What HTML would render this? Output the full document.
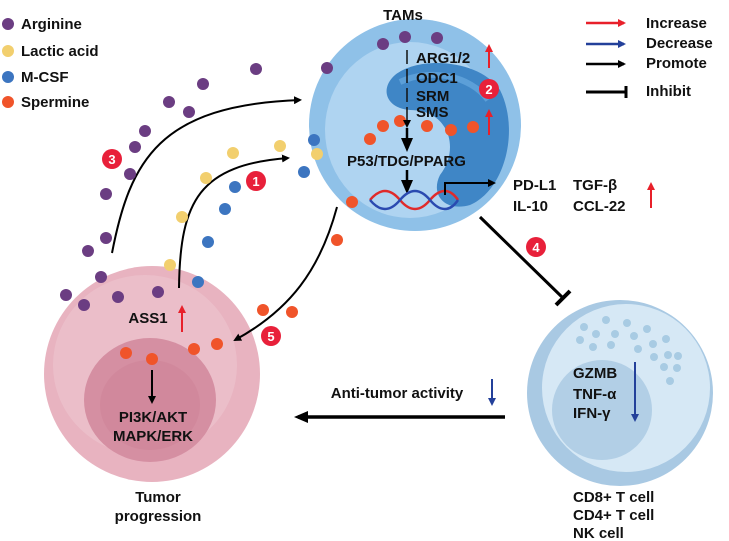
<!DOCTYPE html>
<html><head><meta charset="utf-8"><style>
html,body{margin:0;padding:0;background:#fff;}
svg{display:block;}
text{font-family:"Liberation Sans",Arial,sans-serif;font-weight:bold;fill:#111;}
</style></head><body>
<svg width="729" height="541" viewBox="0 0 729 541" xmlns="http://www.w3.org/2000/svg">
<defs>
<marker id="ab" markerWidth="8" markerHeight="8" refX="6" refY="4" orient="auto" markerUnits="userSpaceOnUse"><path d="M0,0 L8,4 L0,8 Z" fill="#000"/></marker>
<marker id="ar" markerWidth="8" markerHeight="8" refX="6" refY="4" orient="auto" markerUnits="userSpaceOnUse"><path d="M0,0 L8,4 L0,8 Z" fill="#e8202a"/></marker>
<marker id="abl" markerWidth="8" markerHeight="8" refX="6" refY="4" orient="auto" markerUnits="userSpaceOnUse"><path d="M0,0 L8,4 L0,8 Z" fill="#23409a"/></marker>
<marker id="big" markerWidth="14" markerHeight="12" refX="10" refY="6" orient="auto" markerUnits="userSpaceOnUse"><path d="M0,0 L14,6 L0,12 Z" fill="#000"/></marker>
</defs>

<!-- Tumor cell -->
<ellipse cx="152" cy="374" rx="108" ry="108" fill="#e8b3c0"/>
<ellipse cx="145" cy="365" rx="92" ry="90" fill="#edc3cd" opacity="0.7"/>
<ellipse cx="150" cy="400" rx="66" ry="62" fill="#d58fa2"/>
<ellipse cx="150" cy="405" rx="50" ry="45" fill="#cf8498" opacity="0.6"/>

<!-- TAM -->
<ellipse cx="415" cy="125" rx="106" ry="106" fill="#8fc1e8"/>
<ellipse cx="410" cy="130" rx="85" ry="88" fill="#b6d8f2" opacity="0.8"/>
<path d="M395,75 C420,55 480,60 500,90 C520,130 505,190 470,205 C445,212 430,195 440,175 C460,150 450,110 410,110 C385,108 380,88 395,75 Z" fill="#3f86c6"/>
<path d="M400,82 C430,68 470,75 488,100" stroke="#5c9fd8" stroke-width="6" fill="none"/>

<!-- T cell -->
<circle cx="620" cy="393" r="93" fill="#a9c9e3"/>
<circle cx="626" cy="388" r="84" fill="#d6e8f5"/>
<circle cx="602" cy="410" r="50" fill="#b2cfe6"/>
<g fill="#a8cbe3">
<circle cx="584" cy="327" r="4"/><circle cx="606" cy="320" r="4"/><circle cx="627" cy="323" r="4"/><circle cx="647" cy="329" r="4"/><circle cx="666" cy="339" r="4"/><circle cx="580" cy="340" r="4"/><circle cx="596" cy="334" r="4"/><circle cx="615" cy="334" r="4"/><circle cx="634" cy="336" r="4"/><circle cx="653" cy="344" r="4"/><circle cx="593" cy="347" r="4"/><circle cx="611" cy="345" r="4"/><circle cx="638" cy="349" r="4"/><circle cx="654" cy="357" r="4"/><circle cx="668" cy="355" r="4"/><circle cx="678" cy="356" r="4"/><circle cx="664" cy="367" r="4"/><circle cx="677" cy="368" r="4"/><circle cx="670" cy="381" r="4"/>
</g>

<!-- connectors -->
<path d="M112,253 C130,160 160,105 300,100" stroke="#000" stroke-width="2" fill="none" marker-end="url(#ab)"/>
<path d="M179,288 C180,200 200,165 288,158" stroke="#000" stroke-width="2" fill="none" marker-end="url(#ab)"/>
<path d="M337,207 C320,270 290,310 235,340" stroke="#000" stroke-width="2" fill="none" marker-end="url(#ab)"/>
<line x1="480" y1="217" x2="563" y2="298" stroke="#000" stroke-width="3"/>
<line x1="556" y1="305" x2="570" y2="291" stroke="#000" stroke-width="4"/>
<line x1="505" y1="417" x2="298" y2="417" stroke="#000" stroke-width="3.5" marker-end="url(#big)"/>

<!-- legend left -->
<circle cx="8" cy="24" r="6" fill="#6b3d82"/><text x="21" y="29" font-size="15">Arginine</text>
<circle cx="8" cy="51" r="6" fill="#f2cf6e"/><text x="21" y="56" font-size="15">Lactic acid</text>
<circle cx="8" cy="77" r="6" fill="#3c75c0"/><text x="21" y="82" font-size="15">M-CSF</text>
<circle cx="8" cy="102" r="6" fill="#f0542a"/><text x="21" y="107" font-size="15">Spermine</text>

<!-- legend right -->
<line x1="586" y1="23" x2="624" y2="23" stroke="#e8202a" stroke-width="2.5" marker-end="url(#ar)"/><text x="646" y="28" font-size="15">Increase</text>
<line x1="586" y1="44" x2="624" y2="44" stroke="#23409a" stroke-width="2.5" marker-end="url(#abl)"/><text x="646" y="48" font-size="15">Decrease</text>
<line x1="586" y1="64" x2="624" y2="64" stroke="#000" stroke-width="2.5" marker-end="url(#ab)"/><text x="646" y="68" font-size="15">Promote</text>
<line x1="586" y1="92" x2="626" y2="92" stroke="#000" stroke-width="3"/><line x1="626" y1="86" x2="626" y2="98" stroke="#000" stroke-width="3"/><text x="646" y="96" font-size="15">Inhibit</text>

<!-- dots -->
<g fill="#6b3d82">
<circle cx="256" cy="69" r="6"/><circle cx="203" cy="84" r="6"/><circle cx="169" cy="102" r="6"/><circle cx="189" cy="112" r="6"/><circle cx="145" cy="131" r="6"/><circle cx="135" cy="147" r="6"/><circle cx="130" cy="174" r="6"/><circle cx="106" cy="194" r="6"/><circle cx="106" cy="238" r="6"/><circle cx="88" cy="251" r="6"/><circle cx="101" cy="277" r="6"/><circle cx="66" cy="295" r="6"/><circle cx="118" cy="297" r="6"/><circle cx="158" cy="292" r="6"/><circle cx="84" cy="305" r="6"/>
<circle cx="327" cy="68" r="6"/><circle cx="383" cy="44" r="6"/><circle cx="405" cy="37" r="6"/><circle cx="437" cy="38" r="6"/>
</g>
<g fill="#f2cf6e">
<circle cx="233" cy="153" r="6"/><circle cx="280" cy="146" r="6"/><circle cx="206" cy="178" r="6"/><circle cx="182" cy="217" r="6"/><circle cx="170" cy="265" r="6"/><circle cx="317" cy="154" r="6"/>
</g>
<g fill="#3c75c0">
<circle cx="235" cy="187" r="6"/><circle cx="225" cy="209" r="6"/><circle cx="208" cy="242" r="6"/><circle cx="198" cy="282" r="6"/><circle cx="314" cy="140" r="6"/><circle cx="304" cy="172" r="6"/>
</g>
<g fill="#f0542a">
<circle cx="383" cy="126" r="6"/><circle cx="400" cy="121" r="6"/><circle cx="427" cy="126" r="6"/><circle cx="451" cy="130" r="6"/><circle cx="473" cy="127" r="6"/><circle cx="370" cy="139" r="6"/><circle cx="352" cy="202" r="6"/><circle cx="337" cy="240" r="6"/><circle cx="263" cy="310" r="6"/><circle cx="292" cy="312" r="6"/><circle cx="217" cy="344" r="6"/><circle cx="194" cy="349" r="6"/><circle cx="152" cy="359" r="6"/><circle cx="126" cy="353" r="6"/>
</g>

<!-- numbered badges -->
<g font-size="13" text-anchor="middle">
<circle cx="112" cy="159" r="10" fill="#e8203a"/><text x="112" y="164" style="fill:#fff">3</text>
<circle cx="256" cy="181" r="10" fill="#e8203a"/><text x="256" y="186" style="fill:#fff">1</text>
<circle cx="489" cy="89" r="10" fill="#e8203a"/><text x="489" y="94" style="fill:#fff">2</text>
<circle cx="536" cy="247" r="10" fill="#e8203a"/><text x="536" y="252" style="fill:#fff">4</text>
<circle cx="271" cy="336" r="10" fill="#e8203a"/><text x="271" y="341" style="fill:#fff">5</text>
</g>

<!-- TAM contents -->
<text x="403" y="20" font-size="15" text-anchor="middle">TAMs</text>
<g font-size="15">
<text x="416" y="63">ARG1/2</text>
<text x="416" y="83">ODC1</text>
<text x="416" y="101">SRM</text>
<text x="416" y="117">SMS</text>
<text x="347" y="166">P53/TDG/PPARG</text>
</g>
<line x1="407" y1="50" x2="407" y2="122" stroke="#111" stroke-width="1.5" stroke-dasharray="14,5"/>
<line x1="407" y1="122" x2="407" y2="126" stroke="#111" stroke-width="1.5" marker-end="url(#ab)"/>
<line x1="407" y1="128" x2="407" y2="148" stroke="#000" stroke-width="2.5" marker-end="url(#big)"/>
<line x1="407" y1="170" x2="407" y2="190" stroke="#000" stroke-width="2.5" marker-end="url(#big)"/>
<line x1="489" y1="68" x2="489" y2="46" stroke="#e8202a" stroke-width="2" marker-end="url(#ar)"/>
<line x1="489" y1="135" x2="489" y2="111" stroke="#e8202a" stroke-width="2" marker-end="url(#ar)"/>
<!-- DNA -->
<path d="M370,200 C380,188 390,188 400,200 S420,212 430,200 S450,188 458,200" stroke="#e02a2a" stroke-width="2.5" fill="none"/>
<path d="M370,200 C380,212 390,212 400,200 S420,188 430,200 S450,212 458,200" stroke="#2a4ab0" stroke-width="2.5" fill="none"/>
<polyline points="445,195 445,183 494,183" stroke="#000" stroke-width="2" fill="none" marker-end="url(#ab)"/>
<g font-size="15">
<text x="513" y="190">PD-L1</text><text x="573" y="190">TGF-β</text>
<text x="513" y="211">IL-10</text><text x="573" y="211">CCL-22</text>
</g>
<line x1="651" y1="208" x2="651" y2="184" stroke="#e8202a" stroke-width="2" marker-end="url(#ar)"/>

<!-- Tumor contents -->
<text x="148" y="323" font-size="15" text-anchor="middle">ASS1</text>
<line x1="182" y1="332" x2="182" y2="307" stroke="#e8202a" stroke-width="2" marker-end="url(#ar)"/>
<line x1="152" y1="370" x2="152" y2="402" stroke="#000" stroke-width="2" marker-end="url(#ab)"/>
<text x="153" y="422" font-size="15" text-anchor="middle">PI3K/AKT</text>
<text x="153" y="441" font-size="15" text-anchor="middle">MAPK/ERK</text>
<text x="158" y="502" font-size="15" text-anchor="middle">Tumor</text>
<text x="158" y="521" font-size="15" text-anchor="middle">progression</text>

<!-- anti-tumor -->
<text x="397" y="398" font-size="15" text-anchor="middle">Anti-tumor activity</text>
<line x1="492" y1="379" x2="492" y2="404" stroke="#23409a" stroke-width="2" marker-end="url(#abl)"/>

<!-- T cell contents -->
<g font-size="15">
<text x="573" y="378">GZMB</text>
<text x="573" y="399">TNF-α</text>
<text x="573" y="418">IFN-γ</text>
<text x="573" y="502">CD8+ T cell</text>
<text x="573" y="520">CD4+ T cell</text>
<text x="573" y="538">NK cell</text>
</g>
<line x1="635" y1="362" x2="635" y2="420" stroke="#23409a" stroke-width="2" marker-end="url(#abl)"/>
</svg>
</body></html>
